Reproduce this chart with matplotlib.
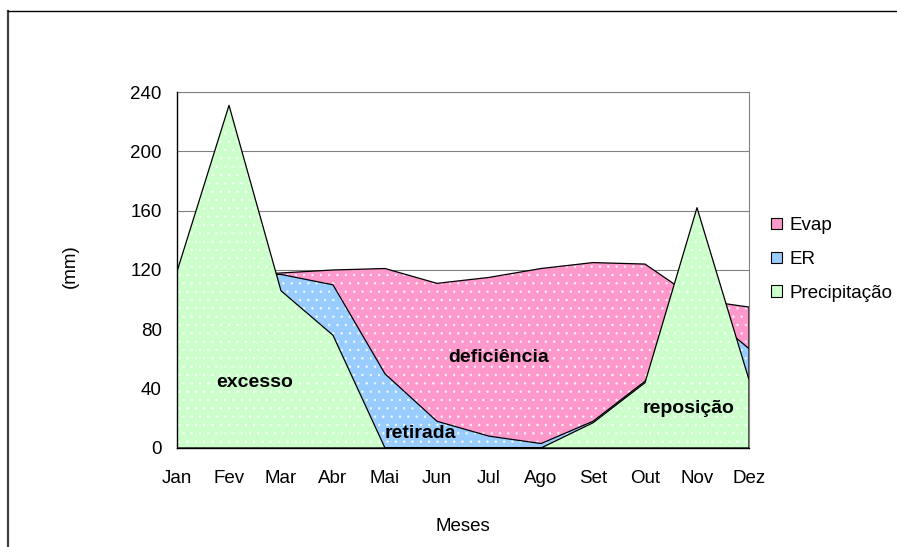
import numpy as np
import matplotlib
matplotlib.use("Agg")
import matplotlib.pyplot as plt
from matplotlib.lines import Line2D
from matplotlib.patches import Patch

# balanco hidrico mensal (mm)
meses = ['Jan', 'Fev', 'Mar', 'Abr', 'Mai', 'Jun', 'Jul', 'Ago', 'Set', 'Out', 'Nov', 'Dez']
evap = [115, 116, 118, 120, 121, 111, 115, 121, 125, 124, 100, 95]
er = [110, 115, 117, 110, 50, 18, 8, 3, 18, 45, 96, 67]
precipitacao = [119, 231, 106, 76, 0, 0, 0, 0, 17, 44, 162, 46]

series_nomes = ['Evap', 'ER', 'Precipitação']
cores = ['#FF99CC', '#99CCFF', '#CCFFCC']

# rotulos dentro do grafico: (texto, x, y)
rotulos = [('excesso', 1.5, 41.3), ('deficiência', 6.19, 58.2),
           ('retirada', 4.68, 6.5), ('reposição', 9.83, 23.4)]

plt.rcParams['font.family'] = ['Liberation Sans', 'DejaVu Sans']
plt.rcParams['hatch.linewidth'] = 0.5

fig = plt.figure(figsize=(8.97, 5.47), dpi=100)
ax = fig.add_axes([177/897, 99/547, 572/897, 356/547])

x = np.arange(len(meses))
z = 2
for vals, cor in zip([evap, er, precipitacao], cores):
    ax.fill_between(x, 0, vals, facecolor=cor, edgecolor=(1, 1, 1, 0.85),
                    hatch='..', linewidth=0, zorder=z)
    ax.fill_between(x, 0, vals, facecolor='none', edgecolor='black',
                    linewidth=0.9, zorder=z + 0.5)
    z += 1

for txt, tx, ty in rotulos:
    ax.text(tx, ty, txt, fontsize=14, fontweight='bold', ha='center',
            va='baseline', zorder=10)

ax.set_xlim(0, len(meses) - 1)
ax.set_ylim(0, 240)
ax.set_xticks(x)
ax.set_xticklabels(meses)
ax.set_yticks(np.arange(0, 241, 40))
ax.tick_params(axis='both', length=0, labelsize=13.5)
ax.tick_params(axis='x', pad=16)
ax.tick_params(axis='y', pad=11)
ax.yaxis.grid(True, color='#808080', linewidth=0.8)
ax.set_axisbelow(True)
for s in ['top', 'right']:
    ax.spines[s].set_color('#808080')
    ax.spines[s].set_linewidth(0.8)
for s in ['left', 'bottom']:
    ax.spines[s].set_color('black')
    ax.spines[s].set_linewidth(1.0)
    ax.spines[s].set_zorder(12)

ax.set_xlabel('Meses', fontsize=13.5, labelpad=22)
fig.text(70/897, 1 - 266/547, '(mm)', rotation=90, fontsize=13.5,
         ha='center', va='center')

handles = [Patch(facecolor=c, edgecolor='black', linewidth=0.8) for c in cores]
ax.legend(handles, series_nomes, loc='center left', bbox_to_anchor=(1.026, 0.53),
          frameon=False, fontsize=13.5, handlelength=0.55, handleheight=0.55,
          handletextpad=0.4, labelspacing=0.9, borderaxespad=0)

# moldura externa
fig.add_artist(Line2D([8/897, 8/897], [0, 1 - 11/547], color='#404040', linewidth=1.6))
fig.add_artist(Line2D([8/897, 1], [1 - 11/547, 1 - 11/547], color='black', linewidth=1.0))

fig.savefig('out.png', dpi=100)
